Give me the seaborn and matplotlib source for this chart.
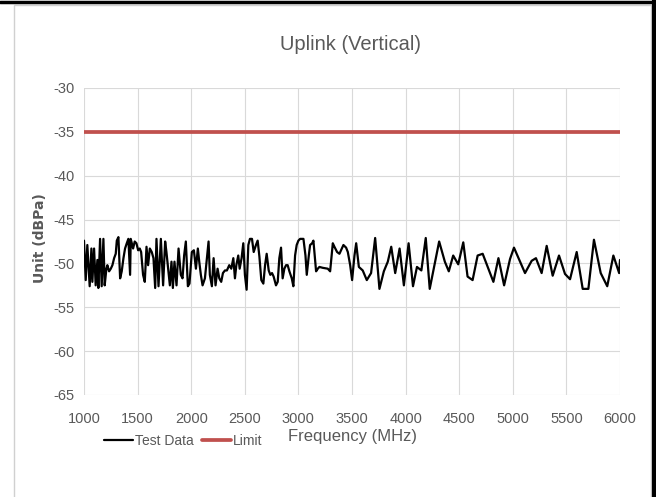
"""Uplink (Vertical) emission chart — test data against the limit line."""

import matplotlib

matplotlib.use("Agg")
import matplotlib.pyplot as plt
import seaborn as sns
from matplotlib.lines import Line2D
from matplotlib.patches import Rectangle

# ── Data ──
freq_mhz = [
    1000, 1016, 1031, 1053, 1069, 1078, 1094, 1109, 1125, 1134,
    1150, 1165, 1181, 1193, 1209, 1218, 1234, 1250, 1265, 1281,
    1296, 1306, 1321, 1337, 1352, 1368, 1383, 1399, 1414, 1430,
    1436, 1458, 1473, 1489, 1505, 1520, 1533, 1551, 1567, 1583,
    1598, 1614, 1632, 1648, 1664, 1676, 1695, 1717, 1738, 1757,
    1769, 1785, 1801, 1816, 1829, 1844, 1863, 1882, 1903, 1919,
    1934, 1950, 1969, 1984, 2006, 2025, 2044, 2062, 2075, 2090,
    2106, 2128, 2143, 2162, 2174, 2193, 2209, 2227, 2246, 2262,
    2280, 2296, 2315, 2333, 2355, 2374, 2393, 2408, 2421, 2439,
    2452, 2470, 2486, 2501, 2517, 2533, 2548, 2567, 2583, 2604,
    2620, 2636, 2654, 2673, 2689, 2704, 2723, 2738, 2754, 2769,
    2791, 2807, 2822, 2838, 2853, 2869, 2885, 2900, 2916, 2938,
    2953, 2969, 2984, 3000, 3016, 3047, 3066, 3078, 3097, 3109,
    3128, 3140, 3165, 3181, 3196, 3227, 3274, 3296, 3321, 3336,
    3361, 3383, 3398, 3420, 3445, 3461, 3483, 3501, 3523, 3539,
    3564, 3600, 3638, 3678, 3716, 3756, 3797, 3834, 3866, 3903,
    3944, 3984, 4028, 4069, 4106, 4147, 4188, 4225, 4266, 4313,
    4366, 4403, 4444, 4491, 4538, 4578, 4625, 4672, 4719, 4766,
    4819, 4866, 4919, 4974, 5011, 5114, 5176, 5216, 5269, 5316,
    5372, 5431, 5487, 5534, 5596, 5652, 5705, 5757, 5820, 5881,
    5938, 5992, 6000,
]
test_dbpa = [
    -47.4, -51.9, -47.9, -52.6, -48.3, -52.1, -48.3, -52.5, -49.6, -52.8,
    -47.2, -52.6, -47.2, -52.5, -50.6, -50.2, -50.9, -50.6, -50.2, -49.4,
    -48.9, -47.4, -47.0, -51.7, -50.9, -49.4, -48.3, -47.7, -47.2, -51.3,
    -47.2, -48.3, -47.5, -47.7, -48.5, -48.3, -48.7, -51.3, -52.1, -48.1,
    -50.2, -48.3, -48.7, -49.4, -52.8, -47.2, -52.6, -47.2, -52.5, -47.5,
    -48.7, -50.6, -52.5, -49.8, -52.8, -49.8, -52.5, -48.3, -51.3, -51.7,
    -49.1, -47.5, -52.6, -52.3, -48.7, -48.5, -50.6, -48.3, -49.8, -51.3,
    -52.5, -51.7, -49.8, -47.5, -51.3, -52.6, -49.4, -52.5, -50.6, -51.7,
    -52.1, -51.1, -50.8, -50.8, -50.2, -50.6, -49.4, -51.7, -50.2, -49.1,
    -50.6, -49.4, -47.7, -51.3, -53.0, -47.9, -47.2, -47.2, -48.7, -47.9,
    -47.4, -49.2, -51.9, -52.3, -50.2, -48.9, -50.8, -51.3, -51.1, -51.5,
    -52.5, -52.1, -49.4, -48.2, -51.7, -50.6, -50.2, -50.2, -50.9, -51.7,
    -52.6, -49.1, -47.9, -47.4, -47.2, -47.2, -49.1, -51.3, -49.1, -47.9,
    -47.7, -47.4, -50.9, -50.6, -50.4, -50.5, -50.6, -50.9, -47.7, -48.1,
    -48.7, -48.9, -48.5, -47.9, -48.2, -48.7, -50.2, -51.9, -49.1, -47.7,
    -50.4, -50.8, -51.9, -51.1, -47.1, -52.9, -50.9, -49.8, -48.1, -51.1,
    -48.3, -52.5, -47.7, -52.6, -50.4, -50.8, -47.1, -52.9, -50.4, -47.5,
    -49.8, -50.9, -49.1, -50.1, -47.6, -51.5, -51.9, -49.1, -48.9, -50.4,
    -52.1, -49.4, -52.5, -49.5, -48.2, -51.1, -49.7, -49.4, -51.1, -48.0,
    -51.4, -49.1, -51.2, -51.8, -48.7, -52.9, -52.9, -47.3, -51.1, -52.6,
    -49.1, -51.1, -49.6,
]
limit_freq = [1000, 6000]
limit_dbpa = [-35, -35]

x_ticks = [1000, 1500, 2000, 2500, 3000, 3500, 4000, 4500, 5000, 5500, 6000]
y_ticks = [-30, -35, -40, -45, -50, -55, -60, -65]

TEXT_GREY = "#595959"
GRID_GREY = "#D9D9D9"
LIMIT_RED = "#C0504D"
NARROW = ["Liberation Sans Narrow", "Liberation Sans", "DejaVu Sans"]

W, H = 656, 497

sns.set_theme(style="whitegrid")
plt.rcParams["font.family"] = NARROW
plt.rcParams["axes.unicode_minus"] = False

fig = plt.figure(figsize=(W / 100, H / 100), dpi=100)
fig.patch.set_facecolor("white")

# plot area: 1000 at x=84, 6000 at x=620, -30 at y=88, -65 at y=395
ax = fig.add_axes([84 / W, 1 - 395 / H, (620 - 84) / W, (395 - 88) / H])

sns.lineplot(x=freq_mhz, y=test_dbpa, ax=ax, color="black", linewidth=1.6,
             sort=False, estimator=None, label="Test Data")
sns.lineplot(x=limit_freq, y=limit_dbpa, ax=ax, color=LIMIT_RED, linewidth=2.7,
             sort=False, estimator=None, label="Limit")

ax.set_xlim(1000, 6000)
ax.set_ylim(-65, -30)
ax.set_xticks(x_ticks)
ax.set_yticks(y_ticks)
ax.set_xlabel("")
ax.set_ylabel("")
ax.grid(True, color=GRID_GREY, linewidth=0.8)
for spine in ax.spines.values():
    spine.set_visible(False)
ax.tick_params(axis="both", length=0, labelsize=10.5, labelcolor=TEXT_GREY)
ax.tick_params(axis="x", pad=12)
ax.tick_params(axis="y", pad=7)

handles, labels = ax.get_legend_handles_labels()
ax.get_legend().remove()
fig.legend(handles, labels, loc="center left", bbox_to_anchor=(98 / W, 1 - 441 / H),
           ncol=2, frameon=False, fontsize=10, handlelength=2.1, handletextpad=0.15,
           columnspacing=0.6, labelcolor=TEXT_GREY, borderaxespad=0)

fig.text(350 / W, 1 - 44 / H, "Uplink (Vertical)", ha="center", va="center",
         fontsize=14.5, color=TEXT_GREY)
fig.text(352 / W, 1 - 436 / H, "Frequency (MHz)", ha="center", va="center",
         fontsize=12, color=TEXT_GREY)
fig.text(40 / W, 1 - 238 / H, "Unit (dBPa)", ha="center", va="center", rotation=90,
         fontsize=10, fontweight="bold", color=TEXT_GREY, family="DejaVu Sans")

# chart-area border and the black frame round the screenshot
fig.add_artist(Rectangle((14 / W, -0.01), (651 - 14) / W, 1.0, transform=fig.transFigure,
                         fill=False, edgecolor="#D0D0D0", linewidth=1.0))
fig.add_artist(Line2D([0, 1], [1 - 1.5 / H, 1 - 1.5 / H], transform=fig.transFigure,
                      color="black", linewidth=2.5))
fig.add_artist(Line2D([1 - 2 / W, 1 - 2 / W], [0, 1], transform=fig.transFigure,
                      color="black", linewidth=3.0))

fig.savefig("out.png", dpi=100)
plt.close(fig)
